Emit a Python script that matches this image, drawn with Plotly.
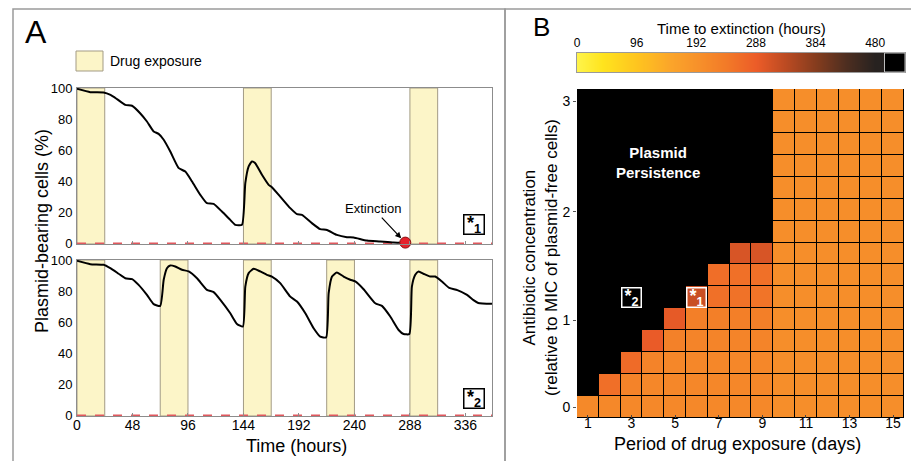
import plotly.graph_objects as go

W, H = 919, 461
OFF = 8  # page body margin offset
FONT = "Liberation Sans, Arial, Helvetica, sans-serif"

# ---------------- Panel A data ----------------
time_ticks = [0, 48, 96, 144, 192, 240, 288, 336]
pct_ticks = [0, 20, 40, 60, 80, 100]
exposure_hours = 24
top_exposure_starts = [0, 144, 288]
bottom_exposure_starts = [0, 72, 144, 216, 288]

top_time = [0, 11.5, 23, 29, 34.6, 41.8, 47.6, 54.8, 60.5, 66.3, 70.6, 75, 80.7, 88, 93.7,
            99.5, 106.7, 112.4, 118.2, 125.4, 132.6, 137, 142.7, 145.6, 148.5, 151.3, 154.2,
            160, 165.8, 168.6, 175.8, 184.5, 190.3, 194.6, 203.2, 210.4, 216.2, 224.8, 233.5,
            239.3, 250.8, 262.3, 273.9, 284]
top_pct = [100, 97.8, 97.6, 96, 93.3, 89.6, 89, 84, 78.8, 72.4, 70.8, 67, 59.4, 48.6, 46.4,
           40, 31.3, 25.9, 25.5, 20.5, 15.1, 11.9, 11.9, 38.9, 49.7, 52.9, 51.8,
           44.3, 37.8, 36.3, 30.2, 22.7, 18.8, 18.4, 13, 9.1, 8.6, 5.4, 3.9,
           3.7, 1.7, 1.1, 0.4, 0.4]
extinction_time = [284]
extinction_pct = [0.4]

bottom_time = [0, 11.5, 23, 28.8, 36, 41.8, 47.6, 53.3, 60.5, 66.3, 72, 75, 77.8, 80.7, 85,
               90.8, 96.6, 103.8, 112.4, 118.2, 124, 132.6, 138.4, 143.5, 145.6, 148.5, 152.8,
               158.5, 164.3, 168.6, 175.8, 184.5, 190.3, 197.5, 204.7, 210.4, 215.5, 217.7,
               220.6, 224.8, 230.6, 236.4, 240.7, 247.9, 258, 263.8, 271, 278.2, 282.5, 287.5,
               289.7, 292.6, 295.5, 299.8, 305.6, 309.9, 315.7, 322, 329, 337.4, 343, 347.1, 359]
bottom_pct = [100, 97.8, 97.4, 95.2, 91.6, 88.7, 88.1, 84.4, 77.9, 71.9, 70.8, 87.7, 95.2, 97, 96.3,
              94.2, 93.1, 88.7, 81.2, 79.7, 74.7, 66, 59.1, 57.4, 83.3, 92, 94.8,
              93.1, 90.9, 89.8, 85.5, 76.8, 73.6, 66, 56.3, 50.9, 50.4, 79,
              89.8, 92.4, 89.8, 87.7, 86.6, 81.6, 72.5, 70.8, 63.9, 55.2, 52.6, 52.6,
              83.3, 90.9, 93.1, 91.6, 89.8, 89.8, 86.6, 82.4, 81, 77.9, 74.5, 72.7, 72.1]

# ---------------- Panel B data ----------------
period_days = [1, 2, 3, 4, 5, 6, 7, 8, 9, 10, 11, 12, 13, 14, 15]
period_ticks = [1, 3, 5, 7, 9, 11, 13, 15]
conc_rows = [0, 1, 2, 3, 4, 5, 6, 7, 8, 9, 10, 11, 12, 13, 14]
conc_tick_rows = [0, 3.95, 8.9, 13.95]
conc_tick_labels = ["0", "1", "2", "3"]
N = None  # plasmid persistence (no extinction)
extinction_hours = [
    [210, 212, 212, 212, 212, 212, 212, 212, 212, 200, 200, 200, 200, 200, 200],
    [N, 258, 222, 215, 215, 215, 215, 215, 215, 200, 200, 200, 200, 200, 200],
    [N, N, 264, 222, 215, 215, 215, 215, 215, 200, 200, 200, 200, 200, 200],
    [N, N, N, 290, 226, 220, 220, 220, 220, 200, 200, 200, 200, 200, 200],
    [N, N, N, N, 294, 230, 230, 230, 230, 200, 200, 200, 200, 200, 200],
    [N, N, N, N, N, 322, 256, 253, 250, 200, 200, 200, 200, 200, 200],
    [N, N, N, N, N, N, 260, 256, 256, 200, 200, 200, 200, 200, 200],
    [N, N, N, N, N, N, N, 308, 308, 200, 200, 200, 200, 200, 200],
    [N, N, N, N, N, N, N, N, N, 200, 200, 200, 200, 200, 200],
    [N, N, N, N, N, N, N, N, N, 200, 200, 200, 200, 200, 200],
    [N, N, N, N, N, N, N, N, N, 200, 200, 200, 200, 200, 200],
    [N, N, N, N, N, N, N, N, N, 200, 200, 200, 200, 200, 200],
    [N, N, N, N, N, N, N, N, N, 200, 200, 200, 200, 200, 200],
    [N, N, N, N, N, N, N, N, N, 200, 200, 200, 200, 200, 200],
    [N, N, N, N, N, N, N, N, N, 200, 200, 200, 200, 200, 200],
]
colorbar_ticks = [0, 96, 192, 288, 384, 480]
persistence_start = 495
scale_max = 528
star_days = [6, 3]
star_rows = [5, 5]
star_names = ["1", "2"]

colorscale = [
    [0 / 528, "#FFF44A"], [40 / 528, "#FFE41E"], [96 / 528, "#FEC41F"],
    [150 / 528, "#FBA52A"], [192 / 528, "#F7922A"], [240 / 528, "#F27A28"],
    [288 / 528, "#EC5C28"], [336 / 528, "#BA4A22"], [384 / 528, "#843C1E"],
    [432 / 528, "#4E2E20"], [480 / 528, "#272220"], [1.0, "#1a1a1a"],
]


def px(xp):
    return (xp - OFF) / W


def py(yp):
    return 1 - (yp - OFF) / H


def star(n):
    return "<b>*<sub>%s</sub></b>" % n


def label(text, x, y, size, color="black", angle=0, **kw):
    d = dict(text=text, x=px(x), y=py(y), xref="paper", yref="paper", xanchor="center",
             yanchor="middle", showarrow=False, textangle=angle,
             font=dict(size=size, color=color, family=FONT))
    d.update(kw)
    return d


fig = go.Figure()

# Panel A curves
fig.add_trace(go.Scatter(x=top_time, y=top_pct, mode="lines", xaxis="x", yaxis="y",
                         line=dict(color="black", width=2, shape="spline", smoothing=0.5),
                         showlegend=False, hoverinfo="skip"))
fig.add_trace(go.Scatter(x=extinction_time, y=extinction_pct, mode="markers", xaxis="x", yaxis="y",
                         marker=dict(color="#E5212B", size=11, line=dict(color="#8a1010", width=1)),
                         showlegend=False, cliponaxis=False, hoverinfo="skip"))
fig.add_trace(go.Scatter(x=bottom_time, y=bottom_pct, mode="lines", xaxis="x2", yaxis="y2",
                         line=dict(color="black", width=2, shape="spline", smoothing=0.5),
                         showlegend=False, hoverinfo="skip"))

# Panel B heatmap
fig.add_trace(go.Heatmap(x=period_days, y=conc_rows, z=extinction_hours, xaxis="x3", yaxis="y3",
                         colorscale=colorscale, zmin=0, zmax=scale_max, showscale=False,
                         xgap=1, ygap=1, hoverinfo="skip"))
# Colour bar strip
fig.add_trace(go.Heatmap(x=colorbar_ticks, y=[0], z=[colorbar_ticks], xaxis="x4", yaxis="y4",
                         colorscale=colorscale, zmin=0, zmax=scale_max, showscale=False,
                         zsmooth="best", hoverinfo="skip"))

shapes = []
# exposure shading
for ax_x, ax_y, starts in (("x", "y", top_exposure_starts), ("x2", "y2", bottom_exposure_starts)):
    for s in starts:
        shapes.append(dict(type="rect", xref=ax_x, yref=ax_y + " domain", x0=s, x1=s + exposure_hours,
                           y0=0, y1=1, fillcolor="#FCF5C8", line=dict(color="#A39B85", width=1),
                           layer="below"))
    shapes.append(dict(type="line", xref=ax_x + " domain", yref=ax_y, x0=0, x1=1, y0=0, y1=0,
                       line=dict(color="#E0585E", width=1.6, dash="dash"), layer="below"))

# heatmap black background (persistence)
shapes.append(dict(type="rect", xref="x3 domain", yref="y3 domain", x0=0, x1=1, y0=0, y1=1,
                   fillcolor="black", line=dict(width=0), layer="below"))
# colour bar persistence block
shapes.append(dict(type="rect", xref="x4", yref="y4 domain", x0=persistence_start, x1=scale_max,
                   y0=0, y1=1, fillcolor="black", line=dict(color="#bdbdbd", width=1), layer="above"))

# panel frames
shapes.append(dict(type="rect", xref="paper", yref="paper", x0=px(13), x1=px(505), y0=-0.1, y1=py(9),
                   line=dict(color="#9a9a9a", width=1.5), fillcolor="rgba(0,0,0,0)", layer="below"))
shapes.append(dict(type="rect", xref="paper", yref="paper", x0=px(505), x1=px(915), y0=-0.1, y1=py(9),
                   line=dict(color="#9a9a9a", width=1.5), fillcolor="rgba(0,0,0,0)", layer="below"))
# legend swatch
shapes.append(dict(type="rect", xref="paper", yref="paper", x0=px(76), x1=px(103), y0=py(71), y1=py(51),
                   fillcolor="#FCF5C8", line=dict(color="#A39B85", width=1)))

annotations = [
    label("A", 36, 32, 32),
    label("B", 541, 27, 26),
    label("Drug exposure", 108, 61, 14, xanchor="left"),
    label("Plasmid-bearing cells (%)", 42, 231, 18, angle=-90),
    label("Time (hours)", 296, 446, 18),
    label("Period of drug exposure (days)", 737, 444, 18),
    label("Time to extinction (hours)", 741, 28, 15),
    label("Antibiotic concentration<br>(relative to MIC of plasmid-free cells)", 540, 258, 17,
          angle=-90),
    label("<b>Plasmid<br>Persistence</b>", 658, 162, 15, color="white"),
    dict(text="Extinction", x=extinction_time[0], y=extinction_pct[0], xref="x", yref="y",
         ax=-32, ay=-34, showarrow=True, arrowhead=2, arrowsize=1, arrowwidth=1.2, standoff=6,
         arrowcolor="black", font=dict(size=13, color="black", family=FONT)),
    dict(text=star("1"), x=0.957, y=0.122, xref="x domain", yref="y domain",
         xanchor="center", yanchor="middle",
         showarrow=False, bordercolor="black", borderwidth=1.5, bgcolor="white", borderpad=0,
         width=19, height=18, font=dict(size=18, color="black", family=FONT)),
    dict(text=star("2"), x=0.957, y=0.115, xref="x2 domain", yref="y2 domain",
         xanchor="center", yanchor="middle",
         showarrow=False, bordercolor="black", borderwidth=1.5, bgcolor="white", borderpad=0,
         width=19, height=18, font=dict(size=18, color="black", family=FONT)),
]
for d, r, n in zip(star_days, star_rows, star_names):
    annotations.append(dict(text=star(n), x=d, y=r, xref="x3", yref="y3",
                            xanchor="center", yanchor="middle",
                            showarrow=False, bordercolor="white", borderwidth=1.5,
                            bgcolor="black" if n == "2" else "rgba(0,0,0,0)", borderpad=0,
                            width=18, height=18, font=dict(size=18, color="white", family=FONT)))

axA = dict(range=[0, 359], tickvals=time_ticks, ticks="inside", ticklen=3, tickcolor="#8c8c8c",
           showline=True, mirror=True, linecolor="#8c8c8c", linewidth=1, showgrid=False,
           zeroline=False, automargin=False, ticklabelstandoff=-4,
           tickfont=dict(size=14, color="black", family=FONT))
ayA = dict(range=[-0.5, 100.5], tickvals=pct_ticks, ticks="", showline=True, mirror=True,
           linecolor="#8c8c8c", linewidth=1, showgrid=False, zeroline=False, automargin=False,
           tickfont=dict(size=13, color="black", family=FONT), ticklabelstandoff=1)

fig.update_layout(
    width=W, height=H, autosize=False, margin=dict(l=0, r=0, t=0, b=0, pad=0),
    paper_bgcolor="white", plot_bgcolor="white", showlegend=False,
    font=dict(family=FONT, color="black"),
    xaxis=dict(axA, domain=[px(77), px(492)], anchor="y", showticklabels=False),
    yaxis=dict(ayA, domain=[py(244), py(88)], anchor="x"),
    xaxis2=dict(axA, domain=[px(77), px(492)], anchor="y2", showticklabels=True),
    yaxis2=dict(ayA, domain=[py(416), py(260)], anchor="x2"),
    xaxis3=dict(domain=[px(577), px(904)], anchor="y3", range=[0.5, 15.5], tickvals=period_ticks,
                ticks="inside", ticklen=3, tickcolor="#444", showgrid=False, zeroline=False,
                showline=False, automargin=False, ticklabelstandoff=-5,
                tickfont=dict(size=14, color="black", family=FONT)),
    yaxis3=dict(domain=[py(418), py(89)], anchor="x3", range=[-0.5, 14.5], tickvals=conc_tick_rows,
                ticktext=conc_tick_labels, ticks="outside", ticklen=3, tickcolor="#555",
                showgrid=False, zeroline=False, showline=False, automargin=False,
                tickfont=dict(size=14, color="black", family=FONT)),
    xaxis4=dict(domain=[px(577), px(905)], anchor="y4", range=[0, scale_max], side="top",
                tickvals=colorbar_ticks, ticks="", showgrid=False, zeroline=False, showline=True,
                mirror=True, linecolor="#9a9a9a", linewidth=1, automargin=False,
                tickfont=dict(size=12, color="black", family=FONT)),
    yaxis4=dict(domain=[py(72), py(53)], anchor="x4", range=[-0.5, 0.5], showticklabels=False,
                ticks="", showgrid=False, zeroline=False, showline=True, mirror=True,
                linecolor="#9a9a9a", linewidth=1, automargin=False),
    shapes=shapes, annotations=annotations,
)

fig.write_html("out.html")
